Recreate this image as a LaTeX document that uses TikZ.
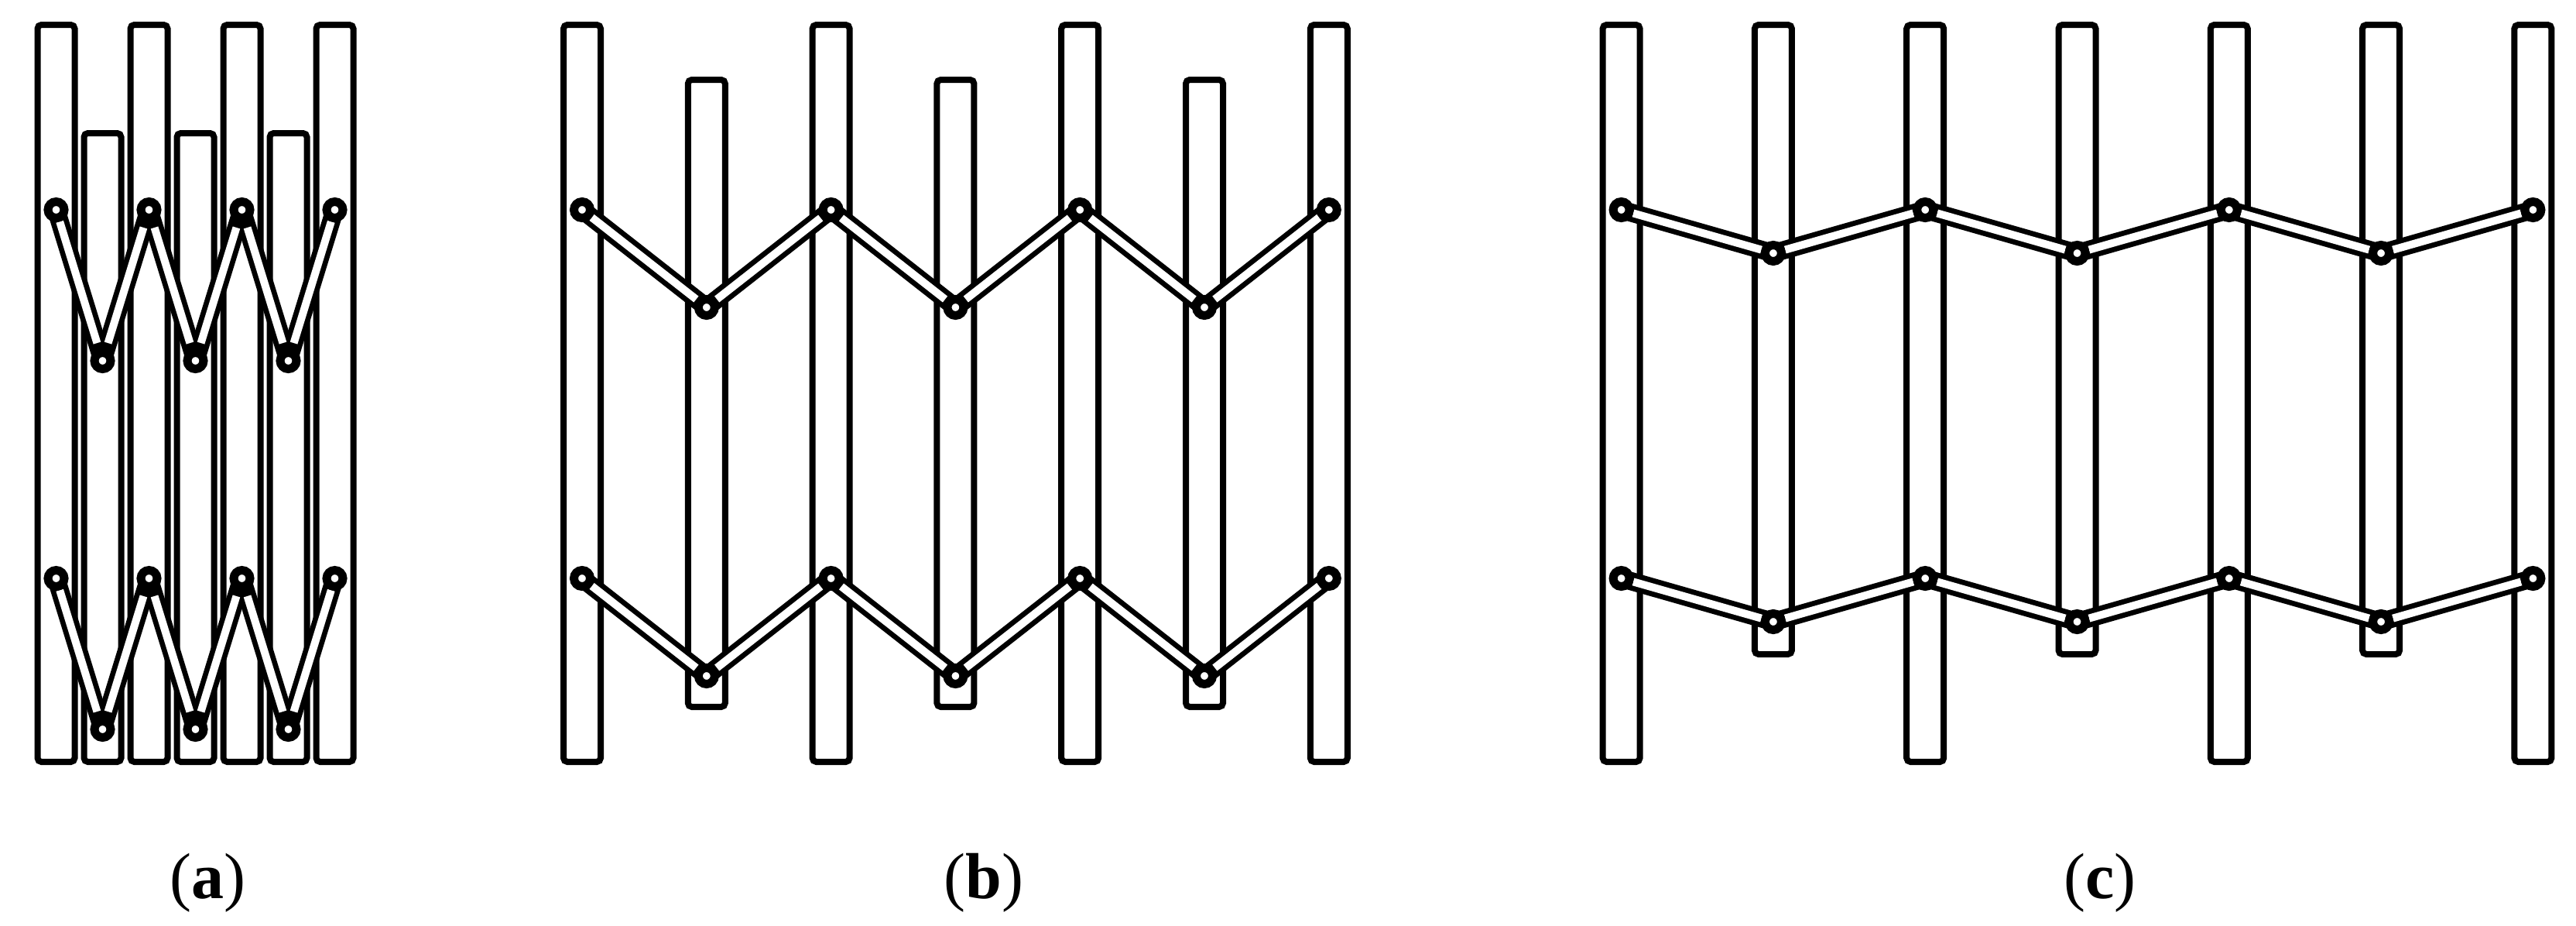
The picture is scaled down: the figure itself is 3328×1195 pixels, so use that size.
\documentclass[tikz,border=0pt]{standalone}
\usepackage{fontspec}
\setmainfont{Liberation Serif}
\tikzset{
  post/.style={draw=black,fill=white,line width=8pt,rectangle,rounded corners=5pt,inner sep=0pt,outer sep=0pt,minimum width=48pt},
  linkouter/.style={draw=black,line width=23.5pt},
  linkinner/.style={draw=white,line width=10pt},
  pin/.style={circle,draw=black,fill=white,line width=11pt,minimum size=21pt,inner sep=0pt,outer sep=0pt},
  figlabel/.style={anchor=base,font=\fontsize{84pt}{84pt}\selectfont,inner sep=0pt}
}
% #1 name, #2 first x, #3 half pitch, #4 short top, #5 short bottom, #6 low pin y (upper row), #7 white-stripe setback at joints
\newcommand{\mechfig}[7]{
  \foreach \i in {0,...,6}{
    \pgfmathsetmacro{\px}{#2+\i*#3}
    \pgfmathsetmacro{\sh}{#5-#4}
    \ifodd\i
      \node[post,minimum height=\sh pt] (#1post\i) at (\px,{(#4+#5)/2}) {};
      \coordinate (#1u\i) at (\px,#6);
      \coordinate (#1d\i) at (\px,{#6+476});
    \else
      \node[post,minimum height=952pt] (#1post\i) at (\px,508) {};
      \coordinate (#1u\i) at (\px,271);
      \coordinate (#1d\i) at (\px,747);
    \fi
  }
  \foreach \r in {u,d}{
    \foreach \i/\j in {0/1,1/2,2/3,3/4,4/5,5/6}{
      \draw[linkouter] (#1\r\i) -- (#1\r\j);
    }
    \foreach \i/\j/\sa/\sb in {0/1/16/#7,1/2/#7/#7,2/3/#7/#7,3/4/#7/#7,4/5/#7/#7,5/6/#7/16}{
      \draw[linkinner,shorten <=\sa pt,shorten >=\sb pt] (#1\r\i) -- (#1\r\j);
    }
    \foreach \i in {0,...,6}{
      \node[pin] (#1\r pin\i) at (#1\r\i) {};
    }
  }
}
\begin{document}
\begin{tikzpicture}[x=1pt,y=-1pt]
\useasboundingbox (0,0) rectangle (3328,1195);
\mechfig{a}{72.5}{60}{172}{984}{466}{24}
\mechfig{b}{752}{160.8}{103}{913}{397}{17}
\mechfig{c}{2094.6}{196.3}{32}{845}{327}{16}
\node[figlabel] (la) at (268,1160) {(\textbf{a})};
\node[figlabel] (lb) at (1271,1160) {(\textbf{b})};
\node[figlabel] (lc) at (2713,1160) {(\textbf{c})};
\end{tikzpicture}
\end{document}
